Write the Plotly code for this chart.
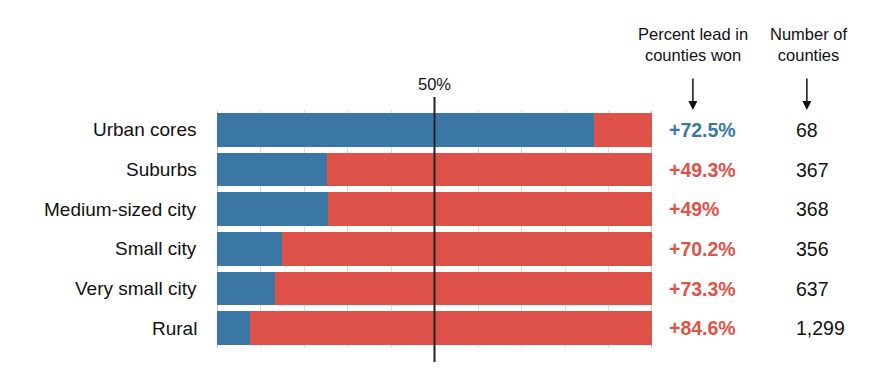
import plotly.graph_objects as go

categories = ["Urban cores", "Suburbs", "Medium-sized city", "Small city", "Very small city", "Rural"]
dem_share = [86.6, 25.4, 25.5, 14.9, 13.3, 7.7]
rep_share = [13.4, 74.6, 74.5, 85.1, 86.7, 92.3]
lead_labels = ["+72.5%", "+49.3%", "+49%", "+70.2%", "+73.3%", "+84.6%"]
lead_winner = ["D", "R", "R", "R", "R", "R"]
county_counts = ["68", "367", "368", "356", "637", "1,299"]
x_ticks = [0, 10, 20, 30, 40, 50, 60, 70, 80, 90, 100]

BLUE = "#3a77a4"
RED = "#df5249"
FONT = "Liberation Sans, Arial, sans-serif"

fig = go.Figure()
fig.add_trace(go.Bar(y=categories, x=dem_share, orientation="h", marker=dict(color=BLUE, line_width=0),
                     hoverinfo="skip"))
fig.add_trace(go.Bar(y=categories, x=rep_share, orientation="h", marker=dict(color=RED, line_width=0),
                     hoverinfo="skip"))

annotations = []
for cat, lead, win, cnt in zip(categories, lead_labels, lead_winner, county_counts):
    annotations.append(dict(x=-0.042, xref="paper", y=cat, yref="y", text=cat, showarrow=False,
                            xanchor="right", yanchor="middle", font=dict(size=19, color="#111", family=FONT)))
    annotations.append(dict(x=1.035, xref="paper", y=cat, yref="y", text="<b>%s</b>" % lead, showarrow=False,
                            xanchor="left", yanchor="middle",
                            font=dict(size=19.5, color=BLUE if win == "D" else RED, family=FONT)))
    annotations.append(dict(x=1.327, xref="paper", y=cat, yref="y", text=cnt, showarrow=False,
                            xanchor="left", yanchor="middle", font=dict(size=19.5, color="#111", family=FONT)))

annotations += [
    dict(x=50, xref="x", y=1.109, yref="paper", text="50%", showarrow=False, xanchor="center",
         yanchor="middle", font=dict(size=16.5, color="#111", family=FONT)),
    dict(x=1.094, xref="paper", y=1.275, yref="paper", text="Percent lead in<br>counties won", showarrow=False,
         xanchor="center", yanchor="middle", font=dict(size=16.5, color="#111", family=FONT)),
    dict(x=1.36, xref="paper", y=1.275, yref="paper", text="Number of<br>counties", showarrow=False,
         xanchor="center", yanchor="middle", font=dict(size=16.5, color="#111", family=FONT)),
    dict(x=1.094, xref="paper", y=1.0, yref="paper", text="", showarrow=True, ax=0, ay=-33,
         axref="pixel", ayref="pixel", arrowhead=2, arrowsize=1.2, arrowwidth=1.5, arrowcolor="#111"),
    dict(x=1.356, xref="paper", y=1.0, yref="paper", text="", showarrow=True, ax=0, ay=-33,
         axref="pixel", ayref="pixel", arrowhead=2, arrowsize=1.2, arrowwidth=1.5, arrowcolor="#111"),
]

shapes = [
    dict(type="line", xref="x", yref="paper", x0=0, x1=0, y0=0, y1=1, line=dict(color="#b8b8b8", width=1.5),
         layer="below"),
    dict(type="line", xref="x", yref="paper", x0=100, x1=100, y0=0, y1=1, line=dict(color="#b8b8b8", width=1.5),
         layer="below"),
    dict(type="line", xref="x", yref="paper", x0=50, x1=50, y0=-0.059, y1=1.055, line=dict(color="#222", width=2),
         layer="above"),
]

fig.update_layout(
    width=867, height=356,
    margin=dict(l=209, r=223, t=102, b=16),
    barmode="stack",
    bargap=0.146,
    showlegend=False,
    plot_bgcolor="white",
    paper_bgcolor="white",
    font=dict(family=FONT),
    xaxis=dict(range=[0, 100], tickvals=x_ticks, showticklabels=False, showgrid=True, gridcolor="#dcdcdc",
               gridwidth=1, zeroline=False, showline=False, fixedrange=True),
    yaxis=dict(autorange="reversed", showticklabels=False, showgrid=False, zeroline=False, fixedrange=True),
    annotations=annotations,
    shapes=shapes,
)

fig.write_html("out.html")
